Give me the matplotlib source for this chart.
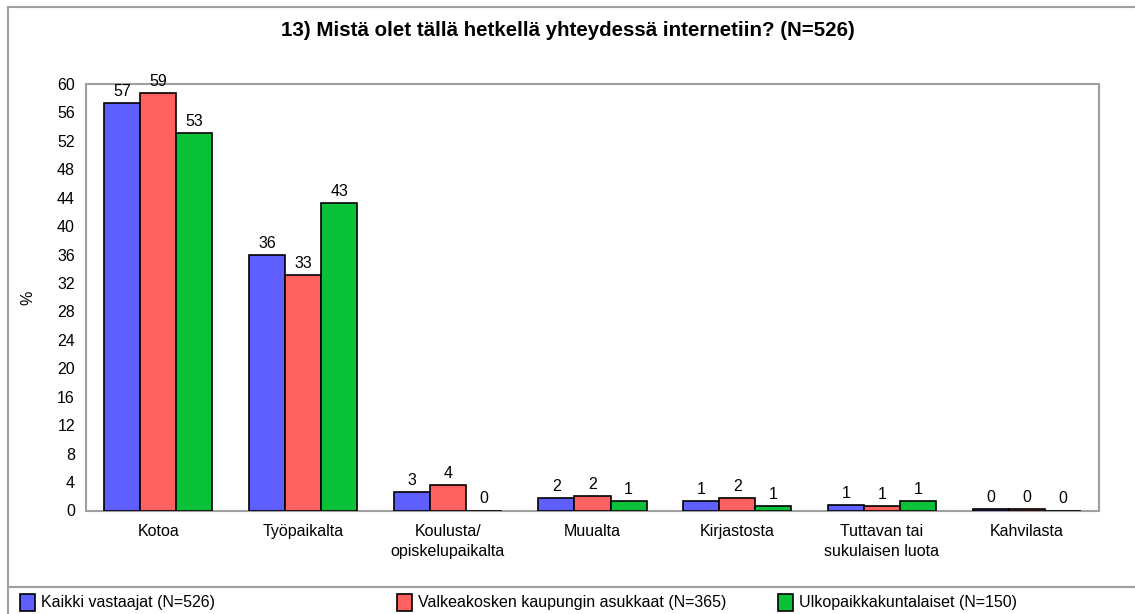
import matplotlib
matplotlib.use("Agg")
import matplotlib.pyplot as plt
from matplotlib.patches import Rectangle
from matplotlib.lines import Line2D
from matplotlib import font_manager
import numpy as np

title = "13) Mistä olet tällä hetkellä yhteydessä internetiin? (N=526)"
categories = ["Kotoa", "Työpaikalta", "Koulusta/\nopiskelupaikalta", "Muualta",
              "Kirjastosta", "Tuttavan tai\nsukulaisen luota", "Kahvilasta"]
series_names = ["Kaikki vastaajat (N=526)",
                "Valkeakosken kaupungin asukkaat (N=365)",
                "Ulkopaikkakuntalaiset (N=150)"]
kaikki = [57.3, 35.9, 2.6, 1.7, 1.3, 0.8, 0.2]
valkeakoski = [58.7, 33.1, 3.6, 2.0, 1.7, 0.6, 0.2]
ulko = [53.1, 43.2, 0.0, 1.3, 0.6, 1.3, 0.0]
labels_kaikki = [57, 36, 3, 2, 1, 1, 0]
labels_valk = [59, 33, 4, 2, 2, 1, 0]
labels_ulko = [53, 43, 0, 1, 1, 1, 0]
yticks = list(range(0, 61, 4))

series = [kaikki, valkeakoski, ulko]
series_labels = [labels_kaikki, labels_valk, labels_ulko]
colors = ["#5f5fff", "#ff6060", "#0ac23a"]

fonts = font_manager.fontManager.ttflist
names = {f.name for f in fonts}
base_font = "Liberation Sans" if "Liberation Sans" in names else "DejaVu Sans"
plt.rcParams["font.family"] = base_font
has_narrow = "Liberation Sans Narrow" in names
title_kw = dict(family="Liberation Sans Narrow", fontsize=17) if has_narrow else dict(family=base_font, fontsize=14.8)

W, H = 1135, 614
fig = plt.figure(figsize=(W / 100, H / 100), dpi=100)

def fx(px):
    return px / W

def fy(py):
    return 1 - py / H

fs = 11.5

# outer frame lines
frame_col = "#a0a0a0"
fig.add_artist(Line2D([fx(8), fx(1135)], [fy(7), fy(7)], color=frame_col, lw=1.5))
fig.add_artist(Line2D([fx(8), fx(8)], [fy(7), fy(614)], color=frame_col, lw=1.5))
fig.add_artist(Line2D([fx(8), fx(1135)], [fy(587), fy(587)], color=frame_col, lw=1.5))

left, right, top, bottom = 86, 1099, 84, 510.5
ax = fig.add_axes([fx(left), fy(bottom), fx(right - left), (bottom - top) / H])

x = np.arange(len(categories))
bw = 0.249
for i, (vals, labs, col) in enumerate(zip(series, series_labels, colors)):
    pos = x + (i - 1) * bw
    ax.bar(pos, vals, width=bw, color=col, edgecolor="black", linewidth=1.2, zorder=3)
    for p, v, l in zip(pos, vals, labs):
        ax.text(p, v + 0.6, str(l), ha="center", va="bottom", fontsize=fs, zorder=4)

ax.set_xlim(-0.5, len(categories) - 0.5)
ax.set_ylim(0, 60)
ax.set_yticks(yticks)
ax.set_yticklabels([str(t) for t in yticks], fontsize=fs)
ax.set_xticks(x)
ax.set_xticklabels(categories, fontsize=fs, linespacing=1.35)
ax.tick_params(axis="both", length=0)
ax.tick_params(axis="y", pad=8)
ax.tick_params(axis="x", pad=10)
for s in ax.spines.values():
    s.set_color(frame_col)
    s.set_linewidth(1.5)

fig.text(fx(28), fy(298), "%", ha="center", va="center", fontsize=fs, rotation=90)

fig.text(0.5, fy(31), title, ha="center", va="center", fontweight="bold", **title_kw)

# legend
sq_x = [20, 397, 778]
for sx, name, col in zip(sq_x, series_names, colors):
    fig.add_artist(Rectangle((fx(sx), fy(611)), fx(15), 17 / H, facecolor=col,
                             edgecolor="black", linewidth=1.2))
    fig.text(fx(sx + 21), fy(603), name, ha="left", va="center", fontsize=fs)

fig.savefig("out.png", dpi=100)
